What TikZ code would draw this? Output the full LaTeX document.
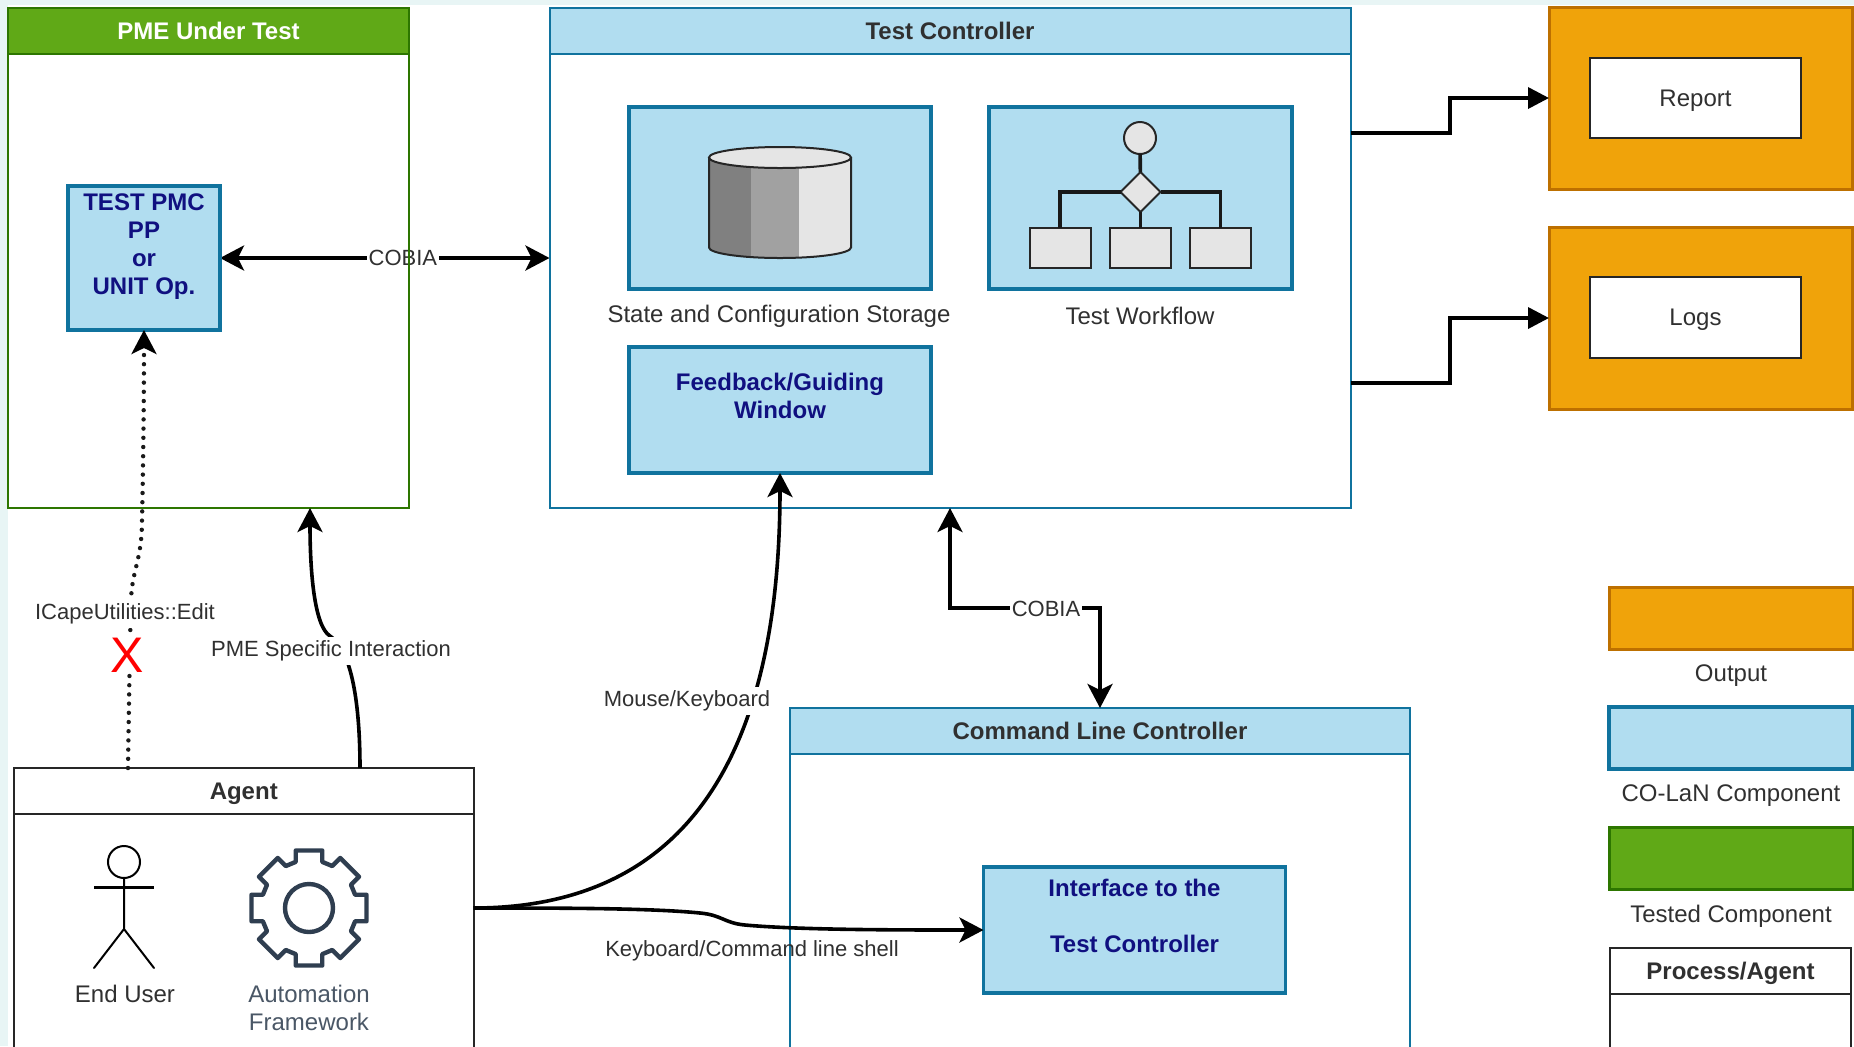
\documentclass[tikz,border=0pt]{standalone}
\usepackage{fontspec}
\setmainfont{Liberation Sans}
\usetikzlibrary{arrows.meta,shapes.geometric,calc}
\definecolor{bluefill}{HTML}{B1DDF0}
\definecolor{bluestroke}{HTML}{10739E}
\definecolor{greenfill}{HTML}{60A917}
\definecolor{greenstroke}{HTML}{2D7600}
\definecolor{orangefill}{HTML}{F0A30A}
\definecolor{orangestroke}{HTML}{BD7000}
\definecolor{navytext}{HTML}{101080}
\definecolor{labeltext}{HTML}{303030}
\definecolor{gearcol}{HTML}{2F3E50}
\definecolor{gearlabel}{HTML}{4A5766}
\definecolor{pagetint}{HTML}{E8F5F5}
\pgfdeclarelayer{under}
\pgfsetlayers{under,main}
\newcommand{\bx}[7]{%
  \pgfmathsetmacro\bxW{(#5-#3)*0.5}%
  \pgfmathsetmacro\bxH{(#6-#4)*0.5}%
  \node[basebox,#2,minimum width=\bxW pt,minimum height=\bxH pt,anchor=north west] (#1) at (#3,#4) {#7};}
\newcommand{\lowered}[1]{\raisebox{-4pt}[5pt][5pt]{#1}}
\tikzset{
  txt/.style={font=\fontsize{12}{14}\selectfont,align=center,text=labeltext,inner sep=0pt,outer sep=0pt},
  basebox/.style={txt,rectangle},
  edgelabel/.style={font=\fontsize{11}{13}\selectfont,align=center,text=labeltext,inner xsep=1pt,inner ysep=0pt,outer sep=0pt},
  edgefill/.style={edgelabel,fill=white,minimum height=14pt},
  bodyblue/.style={draw=bluestroke,line width=1pt},
  headblue/.style={draw=bluestroke,fill=bluefill,line width=1pt,font=\fontsize{12}{14}\selectfont\bfseries},
  comp/.style={draw=bluestroke,fill=bluefill,line width=1.6pt,text=navytext,font=\fontsize{12}{14}\selectfont\bfseries},
  bodygreen/.style={draw=greenstroke,line width=1pt},
  headgreen/.style={draw=greenstroke,fill=greenfill,line width=1pt,text=white,font=\fontsize{12}{14}\selectfont\bfseries},
  outbox/.style={draw=orangestroke,fill=orangefill,line width=1.5pt},
  blackwhite/.style={draw=black!85,fill=white,line width=1pt},
  headblack/.style={draw=black!85,fill=white,line width=1pt,font=\fontsize{12}{14}\selectfont\bfseries},
  wfpart/.style={draw=black!85,fill=black!10,line width=1pt},
  wfline/.style={line width=1.8pt,black!90},
  conn/.style={line width=1.8pt,black},
  tip one/.style={conn,-{Stealth[length=12pt,width=12.5pt,inset=3pt]}},
  tip both/.style={conn,{Stealth[length=12pt,width=12.5pt,inset=3pt]}-{Stealth[length=12pt,width=12.5pt,inset=3pt]}},
  tip block/.style={conn,-{Triangle[length=10.5pt,width=10.5pt]}},
  dotline/.style={line width=2.2pt,black!90,line cap=round,dash pattern=on 0pt off 4.6pt},
}
\begin{document}
\begin{tikzpicture}[x=0.5pt,y=-0.5pt]
\useasboundingbox (0,0) rectangle (1854,1046);
\clip (0,0) rectangle (1854,1046);
\begin{pgfonlayer}{under}
  \fill[white] (0,0) rectangle (1854,1046);
  \fill[pagetint] (0,0) rectangle (1854,5);
  \fill[pagetint] (0,0) rectangle (8,1046);
\end{pgfonlayer}

% containers
\bx{pme}{bodygreen}{8}{8}{409}{508}{}
\bx{pmehead}{headgreen}{8}{8}{409}{54}{PME Under Test}
\bx{tc}{bodyblue}{549.5}{8}{1350.5}{508}{}
\bx{tchead}{headblue}{549.5}{8}{1350.5}{54}{Test Controller}
\bx{clc}{bodyblue}{790}{708}{1410}{1080}{}
\bx{clchead}{headblue}{790}{708}{1410}{754}{Command Line Controller}
\bx{agent}{blackwhite}{14}{768}{473.5}{1048}{}
\bx{agenthead}{headblack}{14}{768}{473.5}{814}{\lowered{Agent}}

% components
\bx{pmc}{comp}{68}{186}{220}{330}{TEST PMC\\PP\\or\\UNIT Op.\\\mbox{}}
\bx{storebox}{comp}{629}{107}{931}{289}{}
\bx{flowbox}{comp}{989}{107}{1292}{289}{}
\bx{feedback}{comp}{629}{347}{931}{473}{Feedback/Guiding\\Window\\\mbox{}}
\bx{iface}{comp}{983.5}{867}{1285.5}{993}{Interface to the\\\mbox{}\\Test Controller\\\mbox{}}
\node[txt] (storelabel) at (779,316) {State and Configuration Storage};
\node[txt] (flowlabel) at (1140,316) {Test Workflow};

% database icon
\begin{scope}
  \clip (709,157.5) -- (709,247.5) arc[start angle=180,end angle=360,x radius=35.5pt,y radius=5.25pt] -- (851,157.5) -- cycle;
  \fill[black!50] (709,140) rectangle (751,270);
  \fill[black!37] (751,140) rectangle (799,270);
  \fill[black!10] (799,140) rectangle (851,270);
\end{scope}
\draw[line width=1pt,black!85] (709,157.5) -- (709,247.5) arc[start angle=180,end angle=360,x radius=35.5pt,y radius=5.25pt] -- (851,157.5);
\draw[line width=1pt,black!85,fill=black!10] (780,157.5) ellipse[x radius=35.5pt,y radius=5.25pt];

% workflow icon
\node[wfpart,circle,minimum size=16pt,inner sep=0pt,outer sep=0pt] (wfstart) at (1140,138) {};
\node[wfpart,diamond,shape aspect=1,minimum width=20pt,minimum height=20pt,inner sep=0pt,outer sep=0pt] (wfgate) at (1140.5,192) {};
\bx{wfa}{wfpart}{1029.5}{228}{1091}{268}{}
\bx{wfb}{wfpart}{1110}{228}{1171}{268}{}
\bx{wfc}{wfpart}{1190}{228}{1251}{268}{}
\draw[wfline] (wfstart) -- (wfgate);
\draw[wfline] (wfgate.west) -| (wfa.north);
\draw[wfline] (wfgate.east) -| (wfc.north);
\draw[wfline] (wfgate.south) -- (wfb.north);

% outputs
\bx{report}{outbox}{1549}{7}{1852}{189}{}
\bx{logs}{outbox}{1549}{227}{1852}{409}{}
\bx{reportin}{blackwhite}{1590}{58}{1801}{138}{\lowered{Report}}
\bx{logsin}{blackwhite}{1590}{277}{1801}{358}{\lowered{Logs}}

% legend
\bx{legout}{outbox}{1609}{587}{1853}{649}{}
\bx{legblue}{comp}{1609}{707}{1853}{769}{}
\bx{leggreen}{draw=greenstroke,fill=greenfill,line width=1.5pt}{1609}{827}{1853}{889}{}
\node[txt] (legoutl) at (1731,676) {Output};
\node[txt] (legbluel) at (1731,796) {CO-LaN Component};
\node[txt] (leggreenl) at (1731,916) {Tested Component};
\bx{legproc}{blackwhite}{1610}{948}{1851}{1080}{}
\bx{legprochead}{headblack}{1610}{948}{1851}{994}{\lowered{Process/Agent}}

% agent content
\node[circle,draw=black,line width=1pt,fill=white,minimum size=16pt,inner sep=0pt,outer sep=0pt] (head) at (124,862) {};
\coordinate (hip) at (124,929);
\coordinate (armL) at (94,887.5);
\coordinate (armR) at (154,887.5);
\coordinate (footL) at (94,968);
\coordinate (footR) at (154,968);
\draw[line width=1pt,line cap=round] (head) -- (hip) (footL) -- (hip) -- (footR);
\draw[line width=1.3pt] (armL) -- (armR);
\node[txt] (enduser) at (125,994) {End User};
\draw[gearcol,line width=2.2pt,line join=round]
  ($(309,908)+(-16:24pt)$)
  \foreach \a in {0,45,...,315}{
    -- ($(309,908)+(\a-16:24pt)$)
    -- ($(309,908)+(\a-13:29.5pt)$)
    -- ($(309,908)+(\a+13:29.5pt)$)
    -- ($(309,908)+(\a+16:24pt)$)
  } -- cycle;
\draw[gearcol,line width=2.2pt] (309,908) circle[radius=12pt];
\node[txt,text=gearlabel] (autolabel) at (309,1008) {Automation\\Framework};

% connectors that the PME border crosses
\begin{pgfonlayer}{under}
  \draw[tip both] (pmc.east) -- (tc.west) node[edgelabel,fill=white,pos=0.555] (cobiaA) {COBIA};
\end{pgfonlayer}

% anchors on the box edges
\coordinate (agentdot) at (128,768);
\coordinate (agentpme) at (360,768);
\coordinate (pmein) at (310,508);
\coordinate (tcoutA) at (1350.5,133);
\coordinate (tcoutB) at (1350.5,383);

\draw[tip block] (tcoutA) -- (1450,133) -- (1450,98) -- (report.west);
\draw[tip block] (tcoutB) -- (1450,383) -- (1450,318) -- (logs.west);

\draw[dotline] (agentdot) .. controls (129,700) and (130,640) .. (131,600)
  .. controls (132,570) and (142,560) .. (142,520) .. controls (143,480) and (144,400) .. (144,350);
\draw[conn,-{Stealth[length=12pt,width=12.5pt,inset=3pt]}] (144,345) -- (pmc.south);
\node[edgefill] (icape) at (125,614) {ICapeUtilities::Edit};
\node[fill=white,text=red,inner xsep=0pt,inner ysep=0pt,font=\fontsize{25}{25}\selectfont,minimum height=18pt] (cross) at (127,655) {X};

\draw[tip one] (agentpme) .. controls (360,705) and (352,650) .. (330,636)
  .. controls (314,626) and (310,570) .. (pmein);
\node[edgefill] (pmelabel) at (331,651) {PME Specific Interaction};

\draw[tip one] (agent.east) .. controls (690,908) and (780,750) .. (feedback.south);
\node[edgefill] (mouselabel) at (687,701) {Mouse/Keyboard};

\draw[tip one] (agent.east) .. controls (560,908) and (650,908) .. (700,913)
  .. controls (722,915) and (724,923) .. (745,925) .. controls (800,930) and (900,930) .. (iface.west);
\node[edgelabel] (kblabel) at (752,951) {Keyboard/Command line shell};

\draw[tip both] (tc.south) -- (950,608) -- (1100,608) -- (clchead.north);
\node[edgelabel,fill=white] (cobiaB) at (1046,609) {COBIA};
\end{tikzpicture}
\end{document}
